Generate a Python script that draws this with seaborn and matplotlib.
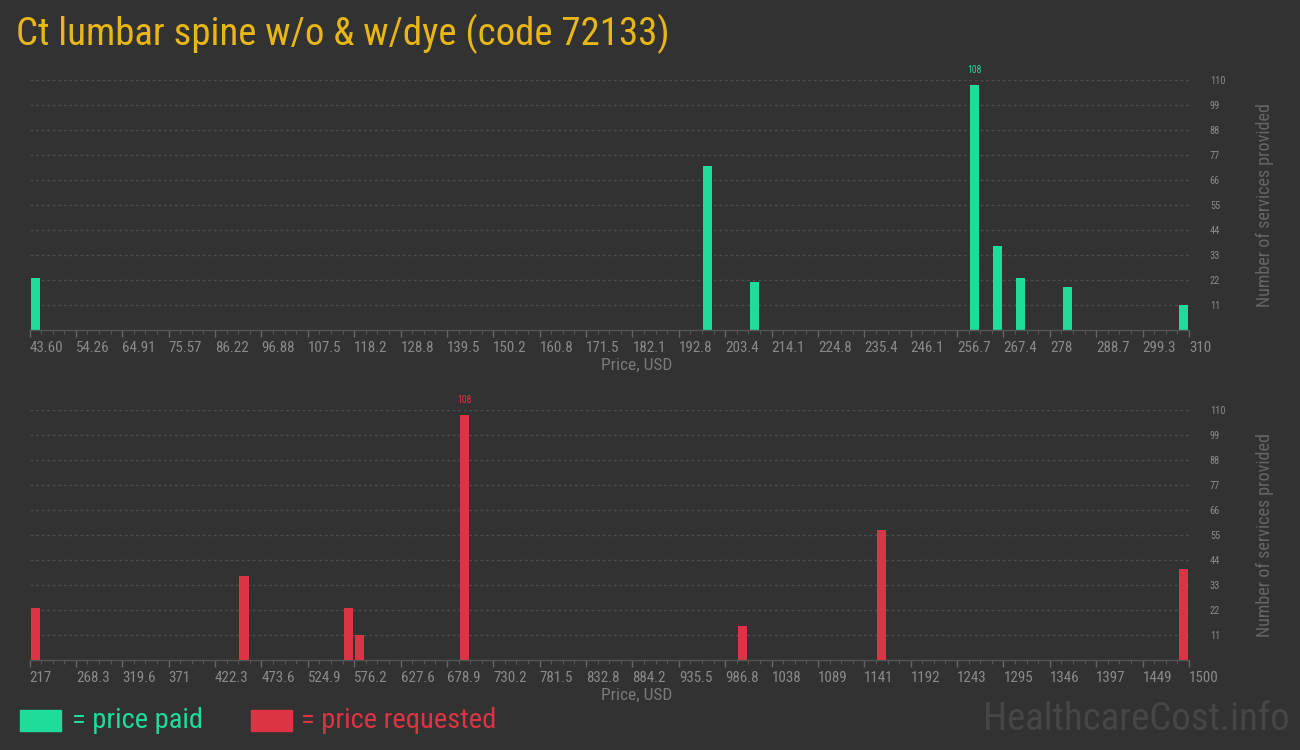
import matplotlib
matplotlib.use("Agg")
import matplotlib.pyplot as plt
import matplotlib.transforms as mtransforms
from matplotlib.ticker import FixedLocator
import seaborn as sns
import numpy as np

# ---------------- data ----------------
title = "Ct lumbar spine w/o & w/dye (code 72133)"

paid_range = (43.60, 310.0)
paid_prices = [44.93, 199.44, 210.10, 260.72, 266.04, 271.37, 282.03, 308.67]
paid_counts = [23, 72, 21, 108, 37, 23, 19, 11]
paid_ticklabels = ["43.60", "54.26", "64.91", "75.57", "86.22", "96.88", "107.5",
                   "118.2", "128.8", "139.5", "150.2", "160.8", "171.5", "182.1",
                   "192.8", "203.4", "214.1", "224.8", "235.4", "246.1", "256.7",
                   "267.4", "278", "288.7", "299.3", "310"]

req_range = (217.0, 1500.0)
req_prices = [223.4, 454.4, 569.8, 582.7, 698.1, 1006.0, 1160.0, 1493.6]
req_counts = [23, 37, 23, 11, 108, 15, 57, 40]
req_ticklabels = ["217", "268.3", "319.6", "371", "422.3", "473.6", "524.9",
                  "576.2", "627.6", "678.9", "730.2", "781.5", "832.8", "884.2",
                  "935.5", "986.8", "1038", "1089", "1141", "1192", "1243",
                  "1295", "1346", "1397", "1449", "1500"]

y_ticks = [11, 22, 33, 44, 55, 66, 77, 88, 99, 110]
n_bins = 100

# ---------------- style ----------------
BG = "#323232"
GREEN = "#20dc9b"
RED = "#dc3444"
GOLD = "#e8b716"
TICK = "#8a8a8a"
LABEL = "#7a7a7a"
GRID = "#4c4c4c"

sns.set_theme(style="dark")
narrow = ["Roboto Condensed", "Liberation Sans Narrow", "Roboto", "DejaVu Sans"]
plt.rcParams["font.family"] = narrow

fig = plt.figure(figsize=(13, 7.5), dpi=100, facecolor=BG)


def draw(ax, prices, counts, xr, ticklabels, color):
    ax.set_facecolor(BG)
    sns.histplot(x=prices, weights=counts, bins=n_bins, binrange=xr,
                 shrink=0.78, color=color, alpha=1, edgecolor=None,
                 linewidth=0, ax=ax)
    ax.set_xlim(*xr)
    ax.set_ylim(0, 110)
    nmaj = len(ticklabels) - 1
    majors = np.linspace(xr[0], xr[1], nmaj + 1)
    ax.xaxis.set_major_locator(FixedLocator(majors))
    ax.xaxis.set_minor_locator(FixedLocator(np.linspace(xr[0], xr[1], n_bins + 1)))
    ax.set_xticklabels(ticklabels)
    off = mtransforms.ScaledTranslation(-3 / 100, 0, fig.dpi_scale_trans)
    for lbl in ax.get_xticklabels():
        lbl.set_horizontalalignment("left")
        lbl.set_transform(lbl.get_transform() + off)
    ax.tick_params(axis="x", which="major", length=5, width=1, color="#666666",
                   labelsize=10.8, labelcolor=TICK, pad=3, bottom=True)
    ax.tick_params(axis="x", which="minor", length=3, width=0.8, color="#555555",
                   bottom=True)
    ax.yaxis.tick_right()
    ax.yaxis.set_label_position("right")
    ax.set_yticks(y_ticks)
    ax.set_yticklabels([str(v) for v in y_ticks])
    ax.tick_params(axis="y", length=0, labelsize=7.5, labelcolor=TICK, pad=15)
    ax.grid(axis="y", color=GRID, linestyle=(0, (2, 2)), linewidth=1)
    ax.grid(axis="x", visible=False)
    ax.set_axisbelow(True)
    for s in ["top", "right", "left"]:
        ax.spines[s].set_visible(False)
    ax.spines["bottom"].set_color("#555555")
    ax.spines["bottom"].set_linewidth(1)
    ax.set_xlabel("Price, USD", color=LABEL, fontsize=12.5, labelpad=2)
    ax.xaxis.label.set_x(0.524)
    ax.set_ylabel("Number of services provided", color="#666666", fontsize=13,
                  labelpad=22)
    # label on the highest bar
    i = int(np.argmax(counts))
    ax.text(prices[i], counts[i] + 4, str(counts[i]), color=color, fontsize=7,
            ha="center", va="bottom")


ax1 = fig.add_axes([0.0227, 0.56, 0.8919, 0.3333])
draw(ax1, paid_prices, paid_counts, paid_range, paid_ticklabels, GREEN)
ax2 = fig.add_axes([0.0227, 0.12, 0.8919, 0.3333])
draw(ax2, req_prices, req_counts, req_range, req_ticklabels, RED)

fig.text(0.012, 0.955, title, color=GOLD, fontsize=28, va="center", ha="left")

# legend
fig.patches.append(plt.Rectangle((20 / 1300, 1 - 731 / 750), 41 / 1300, 21 / 750,
                                 transform=fig.transFigure, color=GREEN))
fig.text(72 / 1300, 1 - 721 / 750, "= price paid", color=GREEN, fontsize=20.5,
         va="center", ha="left")
fig.patches.append(plt.Rectangle((251 / 1300, 1 - 731 / 750), 41 / 1300, 21 / 750,
                                 transform=fig.transFigure, color=RED))
fig.text(301 / 1300, 1 - 721 / 750, "= price requested", color=RED, fontsize=20.5,
         va="center", ha="left")

fig.text(1290 / 1300, 1 - 720 / 750, "HealthcareCost.info", color="#464646",
         fontsize=28, va="center", ha="right")

fig.savefig("out.png", dpi=100, facecolor=BG)
